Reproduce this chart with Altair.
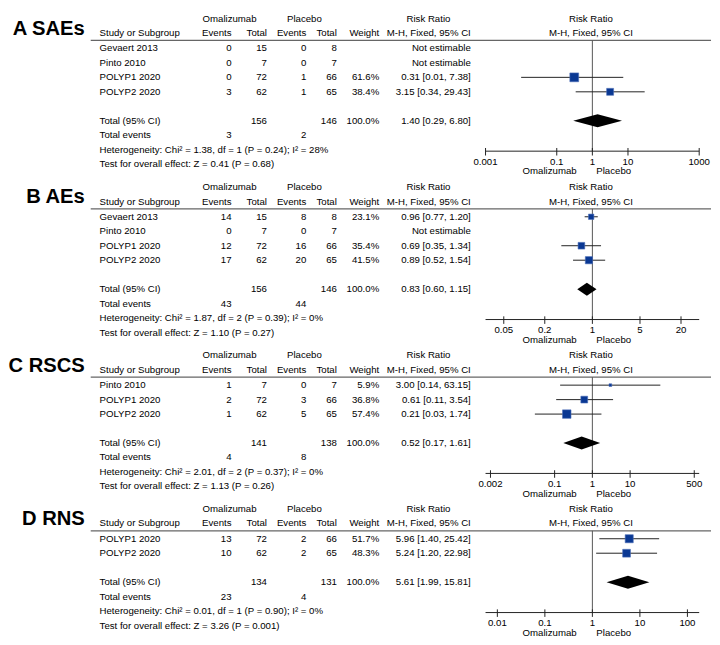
import altair as alt
import pandas as pd

# ---------------- data ----------------
A_label = "A SAEs"
A_study = ["Gevaert 2013", "Pinto 2010", "POLYP1 2020", "POLYP2 2020"]
A_oma_events = [0, 0, 0, 3]
A_oma_total = [15, 7, 72, 62]
A_pla_events = [0, 0, 1, 1]
A_pla_total = [8, 7, 66, 65]
A_weight = [None, None, 61.6, 38.4]
A_rr = [None, None, 0.31, 3.15]
A_lo = [None, None, 0.01, 0.34]
A_hi = [None, None, 7.38, 29.43]
A_total_n = [156, 146]
A_pooled = [1.40, 0.29, 6.80]
A_total_events = [3, 2]
A_het = "Heterogeneity: Chi² = 1.38, df = 1 (P = 0.24); I² = 28%"
A_test = "Test for overall effect: Z = 0.41 (P = 0.68)"
A_ticks = [0.001, 0.1, 1, 10, 1000]
A_axis = [0.001, 1000]

B_label = "B AEs"
B_study = ["Gevaert 2013", "Pinto 2010", "POLYP1 2020", "POLYP2 2020"]
B_oma_events = [14, 0, 12, 17]
B_oma_total = [15, 7, 72, 62]
B_pla_events = [8, 0, 16, 20]
B_pla_total = [8, 7, 66, 65]
B_weight = [23.1, None, 35.4, 41.5]
B_rr = [0.96, None, 0.69, 0.89]
B_lo = [0.77, None, 0.35, 0.52]
B_hi = [1.20, None, 1.34, 1.54]
B_total_n = [156, 146]
B_pooled = [0.83, 0.60, 1.15]
B_total_events = [43, 44]
B_het = "Heterogeneity: Chi² = 1.87, df = 2 (P = 0.39); I² = 0%"
B_test = "Test for overall effect: Z = 1.10 (P = 0.27)"
B_ticks = [0.05, 0.2, 1, 5, 20]
B_axis = [0.027, 37]

C_label = "C RSCS"
C_study = ["Pinto 2010", "POLYP1 2020", "POLYP2 2020"]
C_oma_events = [1, 2, 1]
C_oma_total = [7, 72, 62]
C_pla_events = [0, 3, 5]
C_pla_total = [7, 66, 65]
C_weight = [5.9, 36.8, 57.4]
C_rr = [3.00, 0.61, 0.21]
C_lo = [0.14, 0.11, 0.03]
C_hi = [63.15, 3.54, 1.74]
C_total_n = [141, 138]
C_pooled = [0.52, 0.17, 1.61]
C_total_events = [4, 8]
C_het = "Heterogeneity: Chi² = 2.01, df = 2 (P = 0.37); I² = 0%"
C_test = "Test for overall effect: Z = 1.13 (P = 0.26)"
C_ticks = [0.002, 0.1, 1, 10, 500]
C_axis = [0.00148, 676]

D_label = "D RNS"
D_study = ["POLYP1 2020", "POLYP2 2020"]
D_oma_events = [13, 10]
D_oma_total = [72, 62]
D_pla_events = [2, 2]
D_pla_total = [66, 65]
D_weight = [51.7, 48.3]
D_rr = [5.96, 5.24]
D_lo = [1.40, 1.20]
D_hi = [25.42, 22.98]
D_total_n = [134, 131]
D_pooled = [5.61, 1.99, 15.81]
D_total_events = [23, 4]
D_het = "Heterogeneity: Chi² = 0.01, df = 1 (P = 0.90); I² = 0%"
D_test = "Test for overall effect: Z = 3.26 (P = 0.001)"
D_ticks = [0.01, 0.1, 1, 10, 100]
D_axis = [0.00564, 177]

# ---------------- layout / style ----------------
FONT = "Liberation Sans"
FS = 9.8
INK = "#000000"
W = 712                 # panel plot width (px)
STEP = 14.7             # px per table row
TOP = -0.2              # row value at the top of each panel
FOREST_PX = [483, 700]  # pixel span of the risk-ratio axis
OFF = 8                 # page margin
SPACING = 33
# column anchors (page x)
COL = dict(label=84, study=99, ev1=233, tot1=269, ev2=309, tot2=340, wt=383,
           ci=476, grp1=231, grp2=307, grp3=433, forest=598, rule0=90)

NO_FRAME = alt.ViewBackground(stroke="transparent", strokeWidth=0, strokeOpacity=0)


def cx(name):
    return COL[name] - OFF


def fmt_tick(v):
    return f"{v:g}"


def panel(label, study, e1, t1, e2, t2, wt, rr, lo, hi, tot_n, pooled,
          tot_ev, het, test, axis_dom, ticks):
    n = len(study)
    rows = [2.05 + i for i in range(n)]
    r_tot = rows[-1] + 2.0
    r_ev, r_het, r_test = r_tot + 1, r_tot + 2, r_tot + 3
    r_axis = r_tot + 2.1
    H = (r_axis - TOP) * STEP

    left, right, center = [], [], []
    center += [(0, cx("grp1"), "Omalizumab"), (0, cx("grp2"), "Placebo"),
               (0, cx("grp3"), "Risk Ratio"), (0, cx("forest"), "Risk Ratio"),
               (1, cx("forest"), "M-H, Fixed, 95% CI")]
    left.append((1, cx("study"), "Study or Subgroup"))
    right += [(1, cx("ev1"), "Events"), (1, cx("tot1"), "Total"),
              (1, cx("ev2"), "Events"), (1, cx("tot2"), "Total"),
              (1, cx("wt"), "Weight"), (1, cx("ci"), "M-H, Fixed, 95% CI")]
    forest = []
    for i in range(n):
        r = rows[i]
        left.append((r, cx("study"), study[i]))
        right += [(r, cx("ev1"), str(e1[i])), (r, cx("tot1"), str(t1[i])),
                  (r, cx("ev2"), str(e2[i])), (r, cx("tot2"), str(t2[i]))]
        if rr[i] is None:
            right.append((r, cx("ci"), "Not estimable"))
        else:
            right.append((r, cx("wt"), f"{wt[i]:.1f}%"))
            right.append((r, cx("ci"), f"{rr[i]:.2f} [{lo[i]:.2f}, {hi[i]:.2f}]"))
            forest.append(dict(row=r, rr=rr[i], lo=lo[i], hi=hi[i], w=wt[i]))
    left.append((r_tot, cx("study"), "Total (95% CI)"))
    right += [(r_tot, cx("tot1"), str(tot_n[0])), (r_tot, cx("tot2"), str(tot_n[1])),
              (r_tot, cx("wt"), "100.0%"),
              (r_tot, cx("ci"), f"{pooled[0]:.2f} [{pooled[1]:.2f}, {pooled[2]:.2f}]")]
    left.append((r_ev, cx("study"), "Total events"))
    right += [(r_ev, cx("ev1"), str(tot_ev[0])), (r_ev, cx("ev2"), str(tot_ev[1]))]
    left += [(r_het, cx("study"), het), (r_test, cx("study"), test)]

    def df(recs):
        return pd.DataFrame(recs, columns=["row", "x", "t"])

    ysc = alt.Scale(domain=[TOP, r_axis], reverse=True, nice=False, zero=False)
    tsc = alt.Scale(domain=[0, W], nice=False, zero=False)

    def fsc():
        return alt.Scale(type="log", domain=axis_dom, range=FOREST_PX, nice=False)

    def Y(f):
        return alt.Y(f, scale=ysc, axis=None)

    def FX(f):
        return alt.X(f, scale=fsc(), axis=None)

    def txt(recs, align):
        return alt.Chart(df(recs)).mark_text(
            align=align, baseline="middle", font=FONT, fontSize=FS, color=INK
        ).encode(x=alt.X("x:Q", scale=tsc, axis=None), y=Y("row:Q"), text="t:N")

    lab = alt.Chart(df([(0.7, cx("label"), label)])).mark_text(
        align="right", baseline="middle", font=FONT, fontSize=20.5,
        fontWeight="bold", color="#000"
    ).encode(x=alt.X("x:Q", scale=tsc, axis=None), y=Y("row:Q"), text="t:N")

    hline = alt.Chart(pd.DataFrame({"x": [cx("rule0")], "x2": [W], "row": [1.5]})).mark_rule(
        color="#666666", strokeWidth=1.3
    ).encode(x=alt.X("x:Q", scale=tsc, axis=None), x2="x2:Q", y=Y("row:Q"))

    fdf = pd.DataFrame(forest)
    vline = alt.Chart(pd.DataFrame({"v": [1.0], "y": [1.5], "y2": [r_axis]})).mark_rule(
        color="#555555", strokeWidth=1
    ).encode(x=FX("v:Q"), y=Y("y:Q"), y2="y2:Q")

    axis_line = alt.Chart(pd.DataFrame({"a": [axis_dom[0]], "b": [axis_dom[1]],
                                        "y": [r_axis]})).mark_rule(
        color="#222222", strokeWidth=1
    ).encode(x=FX("a:Q"), x2="b:Q", y=Y("y:Q"))

    tdf = pd.DataFrame({"v": ticks, "t": [fmt_tick(v) for v in ticks],
                        "y": [r_axis - 0.22] * len(ticks),
                        "y2": [r_axis + 0.3] * len(ticks),
                        "yl": [r_axis + 0.72] * len(ticks)})
    tick_marks = alt.Chart(tdf).mark_rule(color="#222222", strokeWidth=1).encode(
        x=FX("v:Q"), y=Y("y:Q"), y2="y2:Q")
    tick_labels = alt.Chart(tdf).mark_text(
        align="center", baseline="middle", font=FONT, fontSize=FS, color=INK
    ).encode(x=FX("v:Q"), y=Y("yl:Q"), text="t:N")

    ci = alt.Chart(fdf).mark_rule(color="#222222", strokeWidth=1).encode(
        x=FX("lo:Q"), x2="hi:Q", y=Y("row:Q"))

    sq = alt.Chart(fdf).mark_square(
        filled=True, color="#0a3893", stroke="#4d6fb8", strokeWidth=0.6, opacity=1
    ).encode(x=FX("rr:Q"), y=Y("row:Q"),
             size=alt.Size("w:Q", scale=alt.Scale(domain=[0, 100], range=[0, 130]), legend=None))

    dh = 0.45
    dia_df = pd.DataFrame({"x": [pooled[1], pooled[0], pooled[2]],
                           "y": [r_tot, r_tot - dh, r_tot],
                           "y2": [r_tot, r_tot + dh, r_tot]})
    dia = alt.Chart(dia_df).mark_area(color="#000000", orient="vertical").encode(
        x=FX("x:Q"), y=Y("y:Q"), y2="y2:Q")

    fav = alt.Chart(pd.DataFrame({"v": [1.0], "row": [r_axis + 1.4]}))
    fav_l = fav.mark_text(align="right", baseline="middle", dx=-16, font=FONT,
                          fontSize=FS, color=INK, text="Omalizumab").encode(
        x=FX("v:Q"), y=Y("row:Q"))
    fav_r = fav.mark_text(align="left", baseline="middle", dx=4, font=FONT,
                          fontSize=FS, color=INK, text="Placebo").encode(
        x=FX("v:Q"), y=Y("row:Q"))

    layers = [hline, txt(left, "left"), txt(right, "right"), txt(center, "center"), lab,
              vline, axis_line, tick_marks, tick_labels, ci, sq, dia, fav_l, fav_r]
    layers = [l.properties(view=NO_FRAME) for l in layers]
    return alt.layer(*layers).resolve_scale(x="independent").properties(
        width=W, height=H, view=NO_FRAME)


pA = panel(A_label, A_study, A_oma_events, A_oma_total, A_pla_events, A_pla_total,
           A_weight, A_rr, A_lo, A_hi, A_total_n, A_pooled, A_total_events,
           A_het, A_test, A_axis, A_ticks)
pB = panel(B_label, B_study, B_oma_events, B_oma_total, B_pla_events, B_pla_total,
           B_weight, B_rr, B_lo, B_hi, B_total_n, B_pooled, B_total_events,
           B_het, B_test, B_axis, B_ticks)
pC = panel(C_label, C_study, C_oma_events, C_oma_total, C_pla_events, C_pla_total,
           C_weight, C_rr, C_lo, C_hi, C_total_n, C_pooled, C_total_events,
           C_het, C_test, C_axis, C_ticks)
pD = panel(D_label, D_study, D_oma_events, D_oma_total, D_pla_events, D_pla_total,
           D_weight, D_rr, D_lo, D_hi, D_total_n, D_pooled, D_total_events,
           D_het, D_test, D_axis, D_ticks)

chart = alt.vconcat(pA, pB, pC, pD, spacing=SPACING, bounds="flush", padding=0).configure_view(
    stroke="transparent", strokeWidth=0, strokeOpacity=0).configure_axis(
    domain=False, ticks=False, labels=False, grid=False).configure(font=FONT, background="white")

chart.save("out.html", embed_options={"renderer": "svg", "actions": False})
